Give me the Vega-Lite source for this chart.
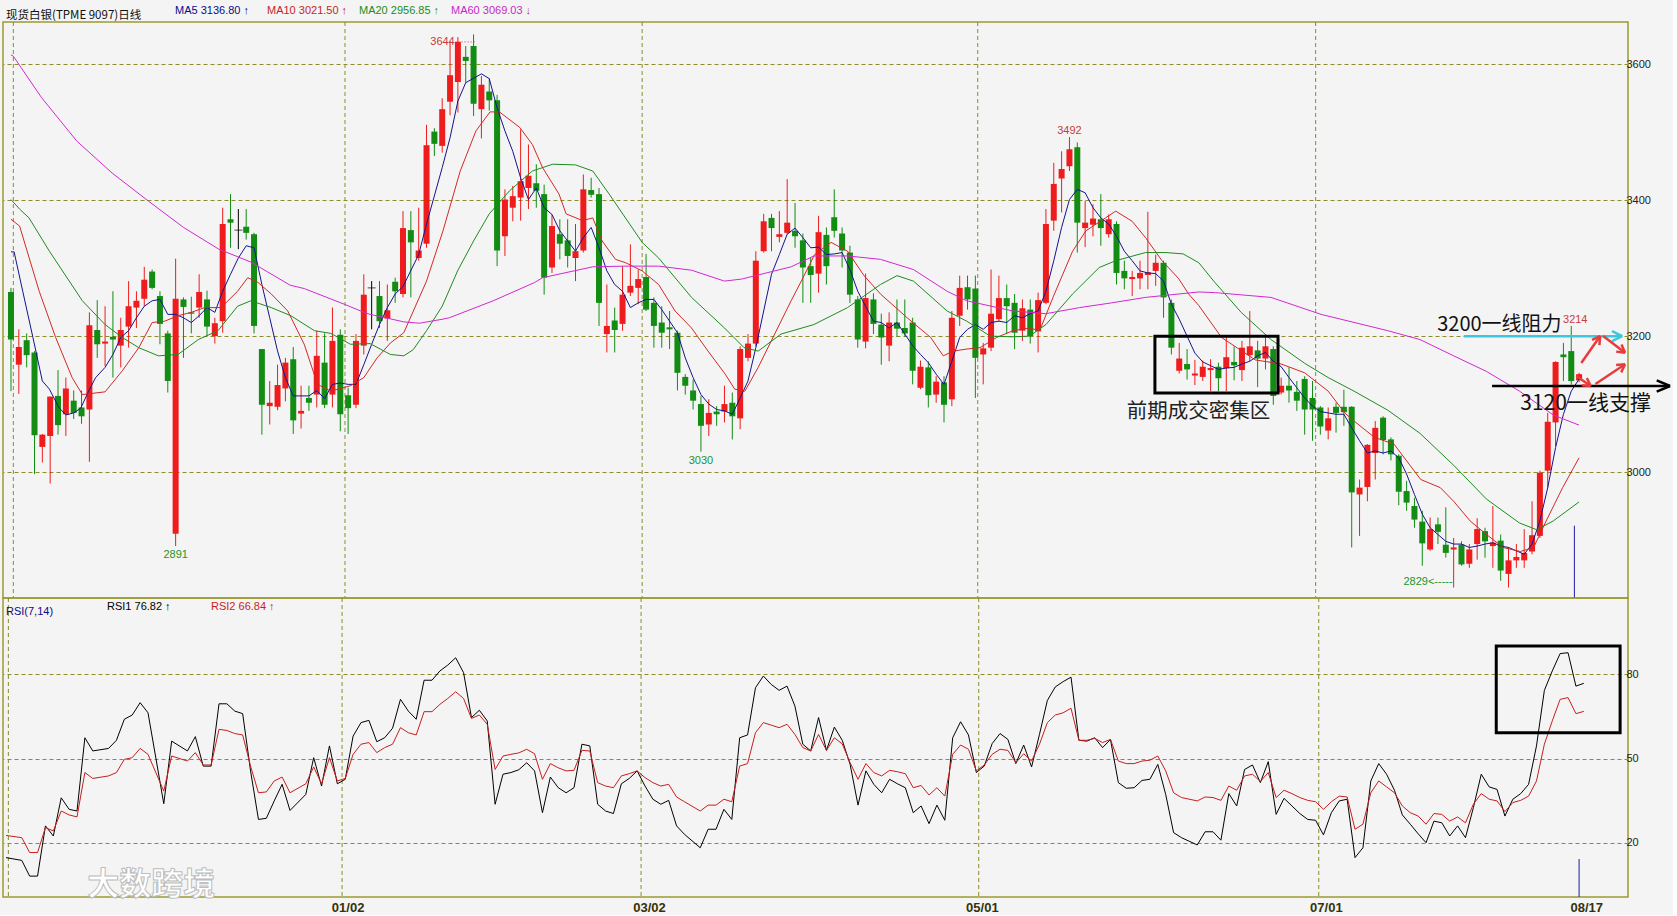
{
"$schema": "https://vega.github.io/schema/vega-lite/v6.json",
"background": "#f4f4f4",
"padding": {"left": 2, "top": 4, "right": 0, "bottom": 0},
"spacing": 0,
"bounds": "flush",
"config": {"view": {"stroke": "#9a9a30", "strokeWidth": 1.5}, "font": "Liberation Sans"},
"resolve": {"scale": {"color": "independent"}, "legend": {"color": "independent"}},
"datasets": {
"vgrid": [{"i":0.3},{"i":42.6},{"i":80.5},{"i":123.3},{"i":166.4}],
"candles": [
{"i":0,"o":3265,"h":3271,"l":3119,"c":3195},{"i":1,"o":3158,"h":3210,"l":3115,"c":3184},{"i":2,"o":3194,"h":3204,"l":3154,"c":3172},{"i":3,"o":3176,"h":3178,"l":2997,"c":3054},{"i":4,"o":3037,"h":3056,"l":3014,"c":3055},
{"i":5,"o":3053,"h":3111,"l":2983,"c":3111},{"i":6,"o":3112,"h":3150,"l":3055,"c":3069},{"i":7,"o":3085,"h":3139,"l":3053,"c":3123},{"i":8,"o":3105,"h":3120,"l":3078,"c":3087},{"i":9,"o":3095,"h":3120,"l":3071,"c":3082},
{"i":10,"o":3092,"h":3235,"l":3015,"c":3216},{"i":11,"o":3209,"h":3253,"l":3168,"c":3188},{"i":12,"o":3189,"h":3244,"l":3156,"c":3192},{"i":13,"o":3199,"h":3266,"l":3139,"c":3195},{"i":14,"o":3186,"h":3227,"l":3154,"c":3209},
{"i":15,"o":3214,"h":3281,"l":3183,"c":3244},{"i":16,"o":3242,"h":3266,"l":3212,"c":3252},{"i":17,"o":3255,"h":3302,"l":3244,"c":3283},{"i":18,"o":3295,"h":3298,"l":3269,"c":3271},{"i":19,"o":3259,"h":3266,"l":3188,"c":3218},
{"i":20,"o":3204,"h":3208,"l":3117,"c":3134},{"i":21,"o":2909,"h":3314,"l":2891,"c":3255},{"i":22,"o":3254,"h":3257,"l":3168,"c":3243},{"i":23,"o":3235,"h":3258,"l":3204,"c":3233},{"i":24,"o":3242,"h":3291,"l":3227,"c":3265},
{"i":25,"o":3254,"h":3267,"l":3200,"c":3214},{"i":26,"o":3200,"h":3227,"l":3189,"c":3219},{"i":27,"o":3222,"h":3389,"l":3205,"c":3365},{"i":28,"o":3372,"h":3409,"l":3330,"c":3367},{"i":29,"o":3356,"h":3387,"l":3328,"c":3356},
{"i":30,"o":3361,"h":3387,"l":3342,"c":3352},{"i":31,"o":3350,"h":3352,"l":3204,"c":3215},{"i":32,"o":3181,"h":3181,"l":3055,"c":3099},{"i":33,"o":3097,"h":3134,"l":3070,"c":3102},{"i":34,"o":3096,"h":3158,"l":3091,"c":3128},
{"i":35,"o":3123,"h":3168,"l":3104,"c":3161},{"i":36,"o":3166,"h":3184,"l":3056,"c":3076},{"i":37,"o":3086,"h":3127,"l":3064,"c":3090},{"i":38,"o":3109,"h":3127,"l":3090,"c":3102},{"i":39,"o":3114,"h":3208,"l":3095,"c":3171},
{"i":40,"o":3161,"h":3204,"l":3094,"c":3099},{"i":41,"o":3114,"h":3242,"l":3095,"c":3193},{"i":42,"o":3202,"h":3210,"l":3060,"c":3085},{"i":43,"o":3113,"h":3124,"l":3056,"c":3094},{"i":44,"o":3099,"h":3203,"l":3094,"c":3193},
{"i":45,"o":3186,"h":3291,"l":3173,"c":3261},{"i":46,"o":3271,"h":3281,"l":3210,"c":3271},{"i":47,"o":3259,"h":3281,"l":3212,"c":3222},{"i":48,"o":3226,"h":3276,"l":3193,"c":3238},{"i":49,"o":3280,"h":3286,"l":3249,"c":3266},
{"i":50,"o":3262,"h":3384,"l":3257,"c":3359},{"i":51,"o":3356,"h":3384,"l":3257,"c":3338},{"i":52,"o":3315,"h":3389,"l":3311,"c":3326},{"i":53,"o":3336,"h":3511,"l":3330,"c":3481},{"i":54,"o":3501,"h":3506,"l":3465,"c":3483},
{"i":55,"o":3480,"h":3550,"l":3470,"c":3534},{"i":56,"o":3545,"h":3634,"l":3525,"c":3584},{"i":57,"o":3574,"h":3640,"l":3529,"c":3633},{"i":58,"o":3611,"h":3627,"l":3573,"c":3605},{"i":59,"o":3627,"h":3644,"l":3524,"c":3542},
{"i":60,"o":3534,"h":3583,"l":3491,"c":3570},{"i":61,"o":3560,"h":3579,"l":3532,"c":3547},{"i":62,"o":3547,"h":3555,"l":3303,"c":3326},{"i":63,"o":3347,"h":3416,"l":3318,"c":3401},{"i":64,"o":3389,"h":3421,"l":3369,"c":3406},
{"i":65,"o":3404,"h":3504,"l":3370,"c":3428},{"i":66,"o":3418,"h":3482,"l":3387,"c":3436},{"i":67,"o":3425,"h":3453,"l":3389,"c":3414},{"i":68,"o":3409,"h":3423,"l":3261,"c":3286},{"i":69,"o":3301,"h":3379,"l":3293,"c":3362},
{"i":70,"o":3350,"h":3372,"l":3313,"c":3336},{"i":71,"o":3341,"h":3372,"l":3301,"c":3318},{"i":72,"o":3315,"h":3365,"l":3281,"c":3325},{"i":73,"o":3326,"h":3438,"l":3323,"c":3416},{"i":74,"o":3415,"h":3433,"l":3404,"c":3408},
{"i":75,"o":3409,"h":3418,"l":3215,"c":3249},{"i":76,"o":3203,"h":3276,"l":3176,"c":3215},{"i":77,"o":3223,"h":3242,"l":3176,"c":3209},{"i":78,"o":3218,"h":3303,"l":3208,"c":3261},{"i":79,"o":3264,"h":3335,"l":3259,"c":3274},
{"i":80,"o":3271,"h":3298,"l":3247,"c":3284},{"i":81,"o":3287,"h":3321,"l":3237,"c":3239},{"i":82,"o":3249,"h":3257,"l":3183,"c":3215},{"i":83,"o":3220,"h":3244,"l":3183,"c":3205},{"i":84,"o":3213,"h":3237,"l":3181,"c":3210},
{"i":85,"o":3205,"h":3208,"l":3120,"c":3146},{"i":86,"o":3140,"h":3144,"l":3114,"c":3127},{"i":87,"o":3120,"h":3136,"l":3092,"c":3105},{"i":88,"o":3100,"h":3112,"l":3030,"c":3068},{"i":89,"o":3070,"h":3107,"l":3053,"c":3087},
{"i":90,"o":3089,"h":3097,"l":3068,"c":3085},{"i":91,"o":3089,"h":3127,"l":3073,"c":3100},{"i":92,"o":3102,"h":3117,"l":3048,"c":3082},{"i":93,"o":3079,"h":3185,"l":3063,"c":3181},{"i":94,"o":3168,"h":3203,"l":3163,"c":3189},
{"i":95,"o":3189,"h":3325,"l":3185,"c":3311},{"i":96,"o":3325,"h":3380,"l":3323,"c":3369},{"i":97,"o":3374,"h":3380,"l":3325,"c":3359},{"i":98,"o":3346,"h":3384,"l":3338,"c":3350},{"i":99,"o":3352,"h":3431,"l":3350,"c":3367},
{"i":100,"o":3355,"h":3396,"l":3330,"c":3347},{"i":101,"o":3341,"h":3351,"l":3249,"c":3301},{"i":102,"o":3303,"h":3315,"l":3249,"c":3290},{"i":103,"o":3292,"h":3377,"l":3264,"c":3353},{"i":104,"o":3349,"h":3360,"l":3276,"c":3303},
{"i":105,"o":3375,"h":3416,"l":3345,"c":3355},{"i":106,"o":3351,"h":3360,"l":3301,"c":3326},{"i":107,"o":3323,"h":3333,"l":3249,"c":3261},{"i":108,"o":3254,"h":3259,"l":3183,"c":3195},{"i":109,"o":3192,"h":3292,"l":3182,"c":3256},
{"i":110,"o":3254,"h":3263,"l":3203,"c":3218},{"i":111,"o":3217,"h":3233,"l":3158,"c":3198},{"i":112,"o":3186,"h":3235,"l":3163,"c":3220},{"i":113,"o":3220,"h":3254,"l":3199,"c":3211},{"i":114,"o":3212,"h":3254,"l":3199,"c":3204},
{"i":115,"o":3220,"h":3227,"l":3129,"c":3149},{"i":116,"o":3124,"h":3164,"l":3122,"c":3155},{"i":117,"o":3154,"h":3163,"l":3095,"c":3113},{"i":118,"o":3114,"h":3141,"l":3102,"c":3133},{"i":119,"o":3132,"h":3141,"l":3073,"c":3099},
{"i":120,"o":3107,"h":3237,"l":3097,"c":3227},{"i":121,"o":3230,"h":3289,"l":3215,"c":3271},{"i":122,"o":3272,"h":3289,"l":3239,"c":3254},{"i":123,"o":3270,"h":3289,"l":3109,"c":3168},{"i":124,"o":3173,"h":3190,"l":3129,"c":3182},
{"i":125,"o":3183,"h":3298,"l":3178,"c":3233},{"i":126,"o":3225,"h":3289,"l":3222,"c":3256},{"i":127,"o":3256,"h":3276,"l":3203,"c":3244},{"i":128,"o":3249,"h":3262,"l":3181,"c":3205},{"i":129,"o":3208,"h":3254,"l":3193,"c":3241},
{"i":130,"o":3239,"h":3254,"l":3189,"c":3200},{"i":131,"o":3207,"h":3264,"l":3176,"c":3253},{"i":132,"o":3249,"h":3387,"l":3247,"c":3365},{"i":133,"o":3370,"h":3455,"l":3355,"c":3424},{"i":134,"o":3432,"h":3472,"l":3382,"c":3446},
{"i":135,"o":3450,"h":3493,"l":3443,"c":3475},{"i":136,"o":3478,"h":3485,"l":3323,"c":3367},{"i":137,"o":3359,"h":3399,"l":3331,"c":3367},{"i":138,"o":3364,"h":3394,"l":3347,"c":3373},{"i":139,"o":3372,"h":3409,"l":3333,"c":3359},
{"i":140,"o":3350,"h":3379,"l":3345,"c":3372},{"i":141,"o":3365,"h":3369,"l":3276,"c":3293},{"i":142,"o":3296,"h":3311,"l":3269,"c":3285},{"i":143,"o":3284,"h":3296,"l":3259,"c":3287},{"i":144,"o":3285,"h":3311,"l":3269,"c":3293},
{"i":145,"o":3290,"h":3383,"l":3269,"c":3294},{"i":146,"o":3296,"h":3320,"l":3274,"c":3308},{"i":147,"o":3308,"h":3311,"l":3227,"c":3257},{"i":148,"o":3249,"h":3254,"l":3173,"c":3183},{"i":149,"o":3149,"h":3190,"l":3145,"c":3167},
{"i":150,"o":3159,"h":3181,"l":3136,"c":3151},{"i":151,"o":3142,"h":3165,"l":3128,"c":3145},{"i":152,"o":3140,"h":3164,"l":3134,"c":3155},{"i":153,"o":3150,"h":3166,"l":3119,"c":3153},{"i":154,"o":3155,"h":3161,"l":3119,"c":3138},
{"i":155,"o":3153,"h":3200,"l":3119,"c":3169},{"i":156,"o":3162,"h":3185,"l":3135,"c":3157},{"i":157,"o":3150,"h":3193,"l":3134,"c":3183},{"i":158,"o":3172,"h":3237,"l":3163,"c":3185},{"i":159,"o":3179,"h":3193,"l":3125,"c":3167},
{"i":160,"o":3167,"h":3198,"l":3151,"c":3185},{"i":161,"o":3181,"h":3185,"l":3099,"c":3112},{"i":162,"o":3117,"h":3139,"l":3114,"c":3127},{"i":163,"o":3127,"h":3154,"l":3102,"c":3120},{"i":164,"o":3118,"h":3134,"l":3090,"c":3105},
{"i":165,"o":3137,"h":3141,"l":3055,"c":3092},{"i":166,"o":3109,"h":3134,"l":3046,"c":3092},{"i":167,"o":3095,"h":3097,"l":3055,"c":3067},{"i":168,"o":3061,"h":3095,"l":3048,"c":3079},{"i":169,"o":3096,"h":3102,"l":3058,"c":3087},
{"i":170,"o":3096,"h":3121,"l":3068,"c":3088},{"i":171,"o":3096,"h":3097,"l":2889,"c":2970},{"i":172,"o":2967,"h":2989,"l":2906,"c":2977},{"i":173,"o":2978,"h":3041,"l":2957,"c":3040},{"i":174,"o":3028,"h":3075,"l":2989,"c":3065},
{"i":175,"o":3080,"h":3082,"l":3026,"c":3047},{"i":176,"o":3048,"h":3051,"l":3017,"c":3026},{"i":177,"o":3024,"h":3026,"l":2951,"c":2971},{"i":178,"o":2972,"h":2987,"l":2943,"c":2955},{"i":179,"o":2950,"h":2962,"l":2918,"c":2930},
{"i":180,"o":2927,"h":2943,"l":2862,"c":2895},{"i":181,"o":2886,"h":2933,"l":2884,"c":2916},{"i":182,"o":2923,"h":2933,"l":2894,"c":2912},{"i":183,"o":2893,"h":2948,"l":2874,"c":2881},{"i":184,"o":2886,"h":2903,"l":2830,"c":2889},
{"i":185,"o":2893,"h":2898,"l":2862,"c":2864},{"i":186,"o":2865,"h":2894,"l":2859,"c":2886},{"i":187,"o":2894,"h":2932,"l":2871,"c":2916},{"i":188,"o":2913,"h":2918,"l":2874,"c":2898},{"i":189,"o":2891,"h":2950,"l":2859,"c":2896},
{"i":190,"o":2899,"h":2908,"l":2840,"c":2855},{"i":191,"o":2850,"h":2889,"l":2830,"c":2870},{"i":192,"o":2870,"h":2894,"l":2859,"c":2875},{"i":193,"o":2870,"h":2916,"l":2859,"c":2881},{"i":194,"o":2883,"h":2957,"l":2879,"c":2907},
{"i":195,"o":2906,"h":3002,"l":2903,"c":2999},{"i":196,"o":3002,"h":3087,"l":2977,"c":3074},{"i":197,"o":3073,"h":3163,"l":3038,"c":3162},{"i":198,"o":3173,"h":3190,"l":3134,"c":3169},{"i":199,"o":3178,"h":3215,"l":3129,"c":3134},
{"i":200,"o":3135,"h":3146,"l":3132,"c":3144}
],
"ma": [
{"s":"MA5","i":0,"v":3324},{"s":"MA5","i":0.4,"v":3324},{"s":"MA5","i":1.5,"v":3266},{"s":"MA5","i":2.8,"v":3198},{"s":"MA5","i":4,"v":3134},{"s":"MA5","i":4.9,"v":3122},{"s":"MA5","i":6.1,"v":3095},{"s":"MA5","i":7,"v":3084},{"s":"MA5","i":8,"v":3087},{"s":"MA5","i":8.9,"v":3094},{"s":"MA5","i":9.9,"v":3119},{"s":"MA5","i":10.8,"v":3139},{"s":"MA5","i":12,"v":3154},{"s":"MA5","i":13,"v":3173},{"s":"MA5","i":14,"v":3198},{"s":"MA5","i":15,"v":3208},{"s":"MA5","i":16,"v":3227},{"s":"MA5","i":17,"v":3244},{"s":"MA5","i":18,"v":3252},{"s":"MA5","i":19,"v":3254},{"s":"MA5","i":20,"v":3232},{"s":"MA5","i":21,"v":3232},{"s":"MA5","i":22,"v":3227},{"s":"MA5","i":23,"v":3220},{"s":"MA5","i":24,"v":3230},{"s":"MA5","i":25,"v":3242},{"s":"MA5","i":26,"v":3235},{"s":"MA5","i":27,"v":3266},{"s":"MA5","i":28,"v":3291},{"s":"MA5","i":29,"v":3315},{"s":"MA5","i":30,"v":3333},{"s":"MA5","i":31,"v":3330},{"s":"MA5","i":32,"v":3276},{"s":"MA5","i":33,"v":3227},{"s":"MA5","i":34,"v":3178},{"s":"MA5","i":35,"v":3139},{"s":"MA5","i":36,"v":3112},{"s":"MA5","i":37,"v":3112},{"s":"MA5","i":38,"v":3112},{"s":"MA5","i":39,"v":3120},{"s":"MA5","i":40,"v":3108},{"s":"MA5","i":41,"v":3129},{"s":"MA5","i":42,"v":3131},{"s":"MA5","i":43,"v":3129},{"s":"MA5","i":44,"v":3129},{"s":"MA5","i":45,"v":3158},{"s":"MA5","i":46,"v":3188},{"s":"MA5","i":47,"v":3217},{"s":"MA5","i":48,"v":3242},{"s":"MA5","i":49,"v":3262},{"s":"MA5","i":50,"v":3273},{"s":"MA5","i":52,"v":3320},{"s":"MA5","i":53,"v":3365},{"s":"MA5","i":55,"v":3448},{"s":"MA5","i":56,"v":3492},{"s":"MA5","i":57,"v":3546},{"s":"MA5","i":58,"v":3573},{"s":"MA5","i":60,"v":3586},{"s":"MA5","i":61,"v":3579},{"s":"MA5","i":62,"v":3536},{"s":"MA5","i":63,"v":3502},{"s":"MA5","i":64,"v":3472},{"s":"MA5","i":65,"v":3433},{"s":"MA5","i":66,"v":3401},{"s":"MA5","i":67,"v":3418},{"s":"MA5","i":68,"v":3389},{"s":"MA5","i":69,"v":3379},{"s":"MA5","i":70,"v":3355},{"s":"MA5","i":71,"v":3340},{"s":"MA5","i":72,"v":3325},{"s":"MA5","i":73,"v":3345},{"s":"MA5","i":74,"v":3360},{"s":"MA5","i":75,"v":3330},{"s":"MA5","i":76,"v":3296},{"s":"MA5","i":77,"v":3276},{"s":"MA5","i":78,"v":3266},{"s":"MA5","i":79,"v":3242},{"s":"MA5","i":80,"v":3249},{"s":"MA5","i":81,"v":3254},{"s":"MA5","i":82,"v":3254},{"s":"MA5","i":83,"v":3239},{"s":"MA5","i":84,"v":3222},{"s":"MA5","i":85,"v":3205},{"s":"MA5","i":86,"v":3168},{"s":"MA5","i":87,"v":3139},{"s":"MA5","i":88,"v":3114},{"s":"MA5","i":89,"v":3100},{"s":"MA5","i":90,"v":3092},{"s":"MA5","i":91,"v":3090},{"s":"MA5","i":92,"v":3085},{"s":"MA5","i":93,"v":3109},{"s":"MA5","i":94,"v":3134},{"s":"MA5","i":95,"v":3183},{"s":"MA5","i":96,"v":3237},{"s":"MA5","i":97,"v":3291},{"s":"MA5","i":98,"v":3320},{"s":"MA5","i":99,"v":3350},{"s":"MA5","i":100,"v":3359},{"s":"MA5","i":101,"v":3345},{"s":"MA5","i":102,"v":3330},{"s":"MA5","i":103,"v":3331},{"s":"MA5","i":104,"v":3320},{"s":"MA5","i":105,"v":3321},{"s":"MA5","i":106,"v":3323},{"s":"MA5","i":107,"v":3298},{"s":"MA5","i":108,"v":3266},{"s":"MA5","i":109,"v":3244},{"s":"MA5","i":110,"v":3222},{"s":"MA5","i":111,"v":3220},{"s":"MA5","i":112,"v":3212},{"s":"MA5","i":113,"v":3220},{"s":"MA5","i":114,"v":3203},{"s":"MA5","i":115,"v":3186},{"s":"MA5","i":116,"v":3173},{"s":"MA5","i":117,"v":3161},{"s":"MA5","i":118,"v":3144},{"s":"MA5","i":119,"v":3129},{"s":"MA5","i":120,"v":3163},{"s":"MA5","i":121,"v":3198},{"s":"MA5","i":122,"v":3210},{"s":"MA5","i":123,"v":3217},{"s":"MA5","i":124,"v":3210},{"s":"MA5","i":125,"v":3220},{"s":"MA5","i":126,"v":3222},{"s":"MA5","i":127,"v":3220},{"s":"MA5","i":128,"v":3230},{"s":"MA5","i":129,"v":3227},{"s":"MA5","i":130,"v":3233},{"s":"MA5","i":131,"v":3237},{"s":"MA5","i":132,"v":3266},{"s":"MA5","i":133,"v":3311},{"s":"MA5","i":134,"v":3360},{"s":"MA5","i":135,"v":3401},{"s":"MA5","i":136,"v":3416},{"s":"MA5","i":137,"v":3411},{"s":"MA5","i":138,"v":3389},{"s":"MA5","i":139,"v":3374},{"s":"MA5","i":140,"v":3365},{"s":"MA5","i":141,"v":3347},{"s":"MA5","i":142,"v":3325},{"s":"MA5","i":143,"v":3311},{"s":"MA5","i":144,"v":3296},{"s":"MA5","i":145,"v":3293},{"s":"MA5","i":146,"v":3292},{"s":"MA5","i":147,"v":3281},{"s":"MA5","i":148,"v":3247},{"s":"MA5","i":149,"v":3225},{"s":"MA5","i":150,"v":3200},{"s":"MA5","i":151,"v":3175},{"s":"MA5","i":152,"v":3162},{"s":"MA5","i":154,"v":3151},{"s":"MA5","i":155,"v":3153},{"s":"MA5","i":156,"v":3154},{"s":"MA5","i":157,"v":3159},{"s":"MA5","i":158,"v":3163},{"s":"MA5","i":159,"v":3171},{"s":"MA5","i":160,"v":3176},{"s":"MA5","i":161,"v":3163},{"s":"MA5","i":162,"v":3155},{"s":"MA5","i":163,"v":3139},{"s":"MA5","i":164,"v":3124},{"s":"MA5","i":165,"v":3109},{"s":"MA5","i":166,"v":3097},{"s":"MA5","i":167,"v":3089},{"s":"MA5","i":168,"v":3087},{"s":"MA5","i":169,"v":3085},{"s":"MA5","i":170,"v":3085},{"s":"MA5","i":171,"v":3065},{"s":"MA5","i":172,"v":3046},{"s":"MA5","i":173,"v":3028},{"s":"MA5","i":174,"v":3031},{"s":"MA5","i":175,"v":3028},{"s":"MA5","i":176,"v":3031},{"s":"MA5","i":177,"v":3021},{"s":"MA5","i":178,"v":2997},{"s":"MA5","i":179,"v":2967},{"s":"MA5","i":180,"v":2938},{"s":"MA5","i":181,"v":2918},{"s":"MA5","i":182,"v":2908},{"s":"MA5","i":183,"v":2898},{"s":"MA5","i":184,"v":2894},{"s":"MA5","i":185,"v":2894},{"s":"MA5","i":186,"v":2889},{"s":"MA5","i":187,"v":2891},{"s":"MA5","i":188,"v":2894},{"s":"MA5","i":189,"v":2896},{"s":"MA5","i":190,"v":2891},{"s":"MA5","i":191,"v":2889},{"s":"MA5","i":192,"v":2884},{"s":"MA5","i":193,"v":2879},{"s":"MA5","i":194,"v":2894},{"s":"MA5","i":195,"v":2928},{"s":"MA5","i":196,"v":2977},{"s":"MA5","i":197,"v":3036},{"s":"MA5","i":198,"v":3085},{"s":"MA5","i":199,"v":3119},{"s":"MA5","i":200,"v":3137},
{"s":"MA10","i":0,"v":3372},{"s":"MA10","i":1.1,"v":3362},{"s":"MA10","i":3.6,"v":3266},{"s":"MA10","i":5.7,"v":3198},{"s":"MA10","i":7.8,"v":3139},{"s":"MA10","i":9.1,"v":3114},{"s":"MA10","i":12,"v":3118},{"s":"MA10","i":14.2,"v":3149},{"s":"MA10","i":16.3,"v":3183},{"s":"MA10","i":18,"v":3220},{"s":"MA10","i":19.6,"v":3222},{"s":"MA10","i":21.3,"v":3230},{"s":"MA10","i":23,"v":3235},{"s":"MA10","i":24.7,"v":3242},{"s":"MA10","i":26.8,"v":3242},{"s":"MA10","i":28.9,"v":3266},{"s":"MA10","i":30.2,"v":3286},{"s":"MA10","i":31.5,"v":3279},{"s":"MA10","i":33.2,"v":3262},{"s":"MA10","i":35.3,"v":3237},{"s":"MA10","i":37.4,"v":3188},{"s":"MA10","i":39.1,"v":3129},{"s":"MA10","i":40.8,"v":3119},{"s":"MA10","i":43.3,"v":3127},{"s":"MA10","i":45,"v":3139},{"s":"MA10","i":46.7,"v":3168},{"s":"MA10","i":48.4,"v":3190},{"s":"MA10","i":50.1,"v":3205},{"s":"MA10","i":53,"v":3281},{"s":"MA10","i":55.1,"v":3355},{"s":"MA10","i":57.3,"v":3443},{"s":"MA10","i":59.3,"v":3502},{"s":"MA10","i":61.1,"v":3530},{"s":"MA10","i":62.3,"v":3530},{"s":"MA10","i":64.9,"v":3507},{"s":"MA10","i":66.5,"v":3482},{"s":"MA10","i":67.8,"v":3448},{"s":"MA10","i":69.9,"v":3409},{"s":"MA10","i":70.8,"v":3380},{"s":"MA10","i":72.9,"v":3370},{"s":"MA10","i":74.2,"v":3374},{"s":"MA10","i":75.4,"v":3340},{"s":"MA10","i":77.1,"v":3313},{"s":"MA10","i":78.4,"v":3308},{"s":"MA10","i":80.5,"v":3296},{"s":"MA10","i":82.6,"v":3276},{"s":"MA10","i":84.7,"v":3237},{"s":"MA10","i":86.8,"v":3212},{"s":"MA10","i":88.9,"v":3178},{"s":"MA10","i":91.1,"v":3144},{"s":"MA10","i":92.3,"v":3122},{"s":"MA10","i":93.6,"v":3119},{"s":"MA10","i":95.3,"v":3154},{"s":"MA10","i":97.4,"v":3203},{"s":"MA10","i":99.5,"v":3252},{"s":"MA10","i":100.8,"v":3281},{"s":"MA10","i":102.5,"v":3320},{"s":"MA10","i":104.6,"v":3338},{"s":"MA10","i":106.7,"v":3325},{"s":"MA10","i":108.8,"v":3289},{"s":"MA10","i":110.9,"v":3262},{"s":"MA10","i":114.3,"v":3227},{"s":"MA10","i":117.3,"v":3198},{"s":"MA10","i":118.9,"v":3171},{"s":"MA10","i":120.2,"v":3178},{"s":"MA10","i":121.9,"v":3181},{"s":"MA10","i":123.6,"v":3183},{"s":"MA10","i":125.7,"v":3198},{"s":"MA10","i":127.8,"v":3208},{"s":"MA10","i":129.9,"v":3212},{"s":"MA10","i":131.2,"v":3208},{"s":"MA10","i":132.9,"v":3257},{"s":"MA10","i":135.4,"v":3325},{"s":"MA10","i":137.1,"v":3355},{"s":"MA10","i":139.6,"v":3374},{"s":"MA10","i":140.9,"v":3384},{"s":"MA10","i":143,"v":3369},{"s":"MA10","i":144.7,"v":3345},{"s":"MA10","i":146.8,"v":3311},{"s":"MA10","i":148.9,"v":3285},{"s":"MA10","i":150.2,"v":3262},{"s":"MA10","i":151.5,"v":3245},{"s":"MA10","i":154.4,"v":3198},{"s":"MA10","i":158.7,"v":3165},{"s":"MA10","i":162,"v":3159},{"s":"MA10","i":165,"v":3146},{"s":"MA10","i":168,"v":3119},{"s":"MA10","i":170.1,"v":3087},{"s":"MA10","i":171.3,"v":3075},{"s":"MA10","i":173.9,"v":3051},{"s":"MA10","i":176.4,"v":3041},{"s":"MA10","i":179.8,"v":2989},{"s":"MA10","i":182.3,"v":2977},{"s":"MA10","i":184,"v":2957},{"s":"MA10","i":186.1,"v":2928},{"s":"MA10","i":188.2,"v":2908},{"s":"MA10","i":190.3,"v":2889},{"s":"MA10","i":192.5,"v":2883},{"s":"MA10","i":194.2,"v":2889},{"s":"MA10","i":195.8,"v":2928},{"s":"MA10","i":197.9,"v":2977},{"s":"MA10","i":200,"v":3021},
{"s":"MA20","i":0,"v":3401},{"s":"MA20","i":1.1,"v":3387},{"s":"MA20","i":2.3,"v":3374},{"s":"MA20","i":4.9,"v":3325},{"s":"MA20","i":9.1,"v":3252},{"s":"MA20","i":12,"v":3217},{"s":"MA20","i":14.2,"v":3198},{"s":"MA20","i":16.3,"v":3183},{"s":"MA20","i":18.8,"v":3171},{"s":"MA20","i":21.3,"v":3173},{"s":"MA20","i":23.9,"v":3195},{"s":"MA20","i":26.4,"v":3208},{"s":"MA20","i":28.9,"v":3244},{"s":"MA20","i":30.6,"v":3252},{"s":"MA20","i":33.2,"v":3242},{"s":"MA20","i":35.7,"v":3230},{"s":"MA20","i":38.7,"v":3208},{"s":"MA20","i":40.8,"v":3204},{"s":"MA20","i":43.3,"v":3188},{"s":"MA20","i":45.8,"v":3189},{"s":"MA20","i":48.4,"v":3173},{"s":"MA20","i":50.1,"v":3171},{"s":"MA20","i":51.3,"v":3180},{"s":"MA20","i":53,"v":3208},{"s":"MA20","i":55,"v":3244},{"s":"MA20","i":57,"v":3297},{"s":"MA20","i":59,"v":3340},{"s":"MA20","i":61,"v":3380},{"s":"MA20","i":63.6,"v":3414},{"s":"MA20","i":66.5,"v":3443},{"s":"MA20","i":69.1,"v":3453},{"s":"MA20","i":72,"v":3452},{"s":"MA20","i":74.2,"v":3443},{"s":"MA20","i":76.3,"v":3409},{"s":"MA20","i":80.5,"v":3338},{"s":"MA20","i":82.6,"v":3315},{"s":"MA20","i":86.8,"v":3257},{"s":"MA20","i":91,"v":3212},{"s":"MA20","i":93.5,"v":3183},{"s":"MA20","i":95.3,"v":3178},{"s":"MA20","i":98.2,"v":3203},{"s":"MA20","i":102.4,"v":3217},{"s":"MA20","i":106.7,"v":3242},{"s":"MA20","i":110.9,"v":3276},{"s":"MA20","i":113,"v":3289},{"s":"MA20","i":115.1,"v":3281},{"s":"MA20","i":119.4,"v":3237},{"s":"MA20","i":121.9,"v":3222},{"s":"MA20","i":124.9,"v":3200},{"s":"MA20","i":127.8,"v":3199},{"s":"MA20","i":129.9,"v":3200},{"s":"MA20","i":132,"v":3217},{"s":"MA20","i":135.4,"v":3262},{"s":"MA20","i":138.8,"v":3301},{"s":"MA20","i":140.9,"v":3311},{"s":"MA20","i":144.7,"v":3323},{"s":"MA20","i":147.3,"v":3323},{"s":"MA20","i":149.5,"v":3321},{"s":"MA20","i":151.5,"v":3308},{"s":"MA20","i":153.4,"v":3281},{"s":"MA20","i":156.9,"v":3235},{"s":"MA20","i":160.7,"v":3195},{"s":"MA20","i":165,"v":3160},{"s":"MA20","i":168,"v":3139},{"s":"MA20","i":171.3,"v":3119},{"s":"MA20","i":175.6,"v":3091},{"s":"MA20","i":179.7,"v":3057},{"s":"MA20","i":184,"v":3010},{"s":"MA20","i":188.2,"v":2960},{"s":"MA20","i":192.4,"v":2925},{"s":"MA20","i":194.6,"v":2915},{"s":"MA20","i":196.7,"v":2928},{"s":"MA20","i":200,"v":2956},
{"s":"MA60","i":0,"v":3614},{"s":"MA60","i":0.3,"v":3612},{"s":"MA60","i":3.9,"v":3551},{"s":"MA60","i":8.4,"v":3487},{"s":"MA60","i":12.9,"v":3440},{"s":"MA60","i":17.5,"v":3399},{"s":"MA60","i":22,"v":3360},{"s":"MA60","i":26.5,"v":3328},{"s":"MA60","i":30.6,"v":3309},{"s":"MA60","i":35.6,"v":3275},{"s":"MA60","i":37.4,"v":3270},{"s":"MA60","i":42.5,"v":3247},{"s":"MA60","i":44.6,"v":3237},{"s":"MA60","i":45.8,"v":3232},{"s":"MA60","i":50.1,"v":3221},{"s":"MA60","i":52.1,"v":3219},{"s":"MA60","i":55.1,"v":3225},{"s":"MA60","i":55.9,"v":3227},{"s":"MA60","i":61.5,"v":3252},{"s":"MA60","i":66.8,"v":3279},{"s":"MA60","i":67.8,"v":3286},{"s":"MA60","i":74.2,"v":3302},{"s":"MA60","i":78.3,"v":3303},{"s":"MA60","i":82.6,"v":3303},{"s":"MA60","i":86.8,"v":3297},{"s":"MA60","i":91,"v":3281},{"s":"MA60","i":93.2,"v":3284},{"s":"MA60","i":99.5,"v":3302},{"s":"MA60","i":102.4,"v":3318},{"s":"MA60","i":106.7,"v":3318},{"s":"MA60","i":110.9,"v":3313},{"s":"MA60","i":115.1,"v":3298},{"s":"MA60","i":119.4,"v":3266},{"s":"MA60","i":121.9,"v":3252},{"s":"MA60","i":127.8,"v":3237},{"s":"MA60","i":132,"v":3233},{"s":"MA60","i":136.3,"v":3242},{"s":"MA60","i":140.4,"v":3249},{"s":"MA60","i":144.7,"v":3257},{"s":"MA60","i":151.5,"v":3265},{"s":"MA60","i":153.6,"v":3264},{"s":"MA60","i":160.7,"v":3257},{"s":"MA60","i":167.1,"v":3232},{"s":"MA60","i":175.6,"v":3208},{"s":"MA60","i":179.7,"v":3195},{"s":"MA60","i":184,"v":3171},{"s":"MA60","i":188.2,"v":3148},{"s":"MA60","i":192.4,"v":3119},{"s":"MA60","i":196.7,"v":3084},{"s":"MA60","i":200,"v":3069}
],
"rsi": [
{"i":0,"r1":14.7,"r2":22.6},{"i":2,"r1":13.7,"r2":21.8},{"i":3,"r1":8.1,"r2":16.5},{"i":4,"r1":8.1,"r2":16.5},{"i":5,"r1":26,"r2":25.4},{"i":6,"r1":22.4,"r2":24.2},{"i":7,"r1":36,"r2":31.3},{"i":8,"r1":31.9,"r2":29.9},{"i":9,"r1":31.3,"r2":29.2},{"i":10,"r1":57.4,"r2":45},{"i":11,"r1":52.7,"r2":42.9},{"i":13,"r1":53.6,"r2":43.8},{"i":14,"r1":56.5,"r2":45},{"i":15,"r1":64,"r2":49.7},{"i":16,"r1":65.5,"r2":50.3},{"i":17,"r1":69.9,"r2":53.6},{"i":18,"r1":66.3,"r2":51.5},{"i":20,"r1":33.9,"r2":38.4},{"i":21,"r1":56.2,"r2":50.9},{"i":23,"r1":52.7,"r2":49.1},{"i":24,"r1":57.8,"r2":52.1},{"i":25,"r1":47.3,"r2":47.7},{"i":26,"r1":47.3,"r2":47.7},{"i":27,"r1":69.5,"r2":60.4},{"i":28,"r1":69.5,"r2":60},{"i":29,"r1":66.9,"r2":58.9},{"i":30,"r1":66,"r2":58.4},{"i":31,"r1":45.6,"r2":47.3},{"i":32,"r1":28.3,"r2":37.8},{"i":33,"r1":28.7,"r2":38.1},{"i":34,"r1":34.9,"r2":42},{"i":35,"r1":40.8,"r2":43.4},{"i":36,"r1":31.5,"r2":37.8},{"i":38,"r1":37.2,"r2":41},{"i":39,"r1":50.3,"r2":47},{"i":40,"r1":40.2,"r2":41},{"i":41,"r1":54.5,"r2":50.3},{"i":42,"r1":41,"r2":42},{"i":43,"r1":42.6,"r2":42.9},{"i":44,"r1":58,"r2":51.5},{"i":45,"r1":62.8,"r2":55.1},{"i":46,"r1":63.6,"r2":55.7},{"i":47,"r1":56,"r2":52.1},{"i":48,"r1":57.4,"r2":53.9},{"i":49,"r1":60.8,"r2":55.1},{"i":50,"r1":71.1,"r2":61},{"i":51,"r1":66.9,"r2":59.2},{"i":52,"r1":64,"r2":58.4},{"i":53,"r1":77.9,"r2":66.7},{"i":54,"r1":77.9,"r2":66.7},{"i":55,"r1":81.2,"r2":69.3},{"i":56,"r1":83.3,"r2":71.4},{"i":57,"r1":85.9,"r2":73.8},{"i":58,"r1":80.6,"r2":71.4},{"i":59,"r1":64.6,"r2":64.3},{"i":60,"r1":67.2,"r2":65.5},{"i":61,"r1":63.4,"r2":62.2},{"i":62,"r1":33.7,"r2":46.1},{"i":63,"r1":44.4,"r2":50.9},{"i":64,"r1":45,"r2":51.5},{"i":65,"r1":46,"r2":52},{"i":66,"r1":48.5,"r2":53.3},{"i":67,"r1":45.6,"r2":51.7},{"i":68,"r1":30.7,"r2":42.6},{"i":69,"r1":43.4,"r2":48.2},{"i":70,"r1":39.6,"r2":46.7},{"i":71,"r1":37.8,"r2":45.6},{"i":72,"r1":39.6,"r2":45.8},{"i":73,"r1":55.1,"r2":52.9},{"i":74,"r1":54.5,"r2":52.7},{"i":75,"r1":33.7,"r2":41.4},{"i":76,"r1":31.3,"r2":40.2},{"i":77,"r1":30.4,"r2":39.6},{"i":78,"r1":41,"r2":43.8},{"i":79,"r1":42.9,"r2":44.6},{"i":80,"r1":45.6,"r2":45.6},{"i":81,"r1":40.2,"r2":43.2},{"i":82,"r1":35.5,"r2":41.4},{"i":83,"r1":33.7,"r2":40.2},{"i":84,"r1":35.1,"r2":40.8},{"i":85,"r1":26,"r2":36.3},{"i":86,"r1":23,"r2":34.6},{"i":88,"r1":18.2,"r2":31.3},{"i":89,"r1":24.8,"r2":33.4},{"i":90,"r1":24.8,"r2":33.4},{"i":91,"r1":31.9,"r2":35.5},{"i":92,"r1":28.3,"r2":34.6},{"i":93,"r1":57.4,"r2":47.3},{"i":94,"r1":58.4,"r2":48.2},{"i":95,"r1":75.2,"r2":59.2},{"i":96,"r1":79.4,"r2":62.8},{"i":97,"r1":76.4,"r2":61.9},{"i":98,"r1":74.3,"r2":61},{"i":99,"r1":75.8,"r2":62.2},{"i":100,"r1":68.7,"r2":58.6},{"i":101,"r1":55.1,"r2":53.9},{"i":102,"r1":52.7,"r2":52.7},{"i":103,"r1":64.6,"r2":58.6},{"i":104,"r1":52.9,"r2":52.9},{"i":105,"r1":61.2,"r2":57.4},{"i":106,"r1":56.5,"r2":55.2},{"i":107,"r1":47.9,"r2":48.5},{"i":108,"r1":33.4,"r2":42.6},{"i":109,"r1":45.6,"r2":48.2},{"i":110,"r1":40.8,"r2":45},{"i":111,"r1":37.8,"r2":43.8},{"i":112,"r1":42.6,"r2":45.8},{"i":113,"r1":41,"r2":45.3},{"i":114,"r1":39.6,"r2":44.6},{"i":115,"r1":30.7,"r2":39.6},{"i":116,"r1":33.1,"r2":40.4},{"i":117,"r1":26.8,"r2":37},{"i":118,"r1":33.4,"r2":39.6},{"i":119,"r1":28,"r2":36.6},{"i":120,"r1":57.4,"r2":51.5},{"i":121,"r1":63.1,"r2":54.8},{"i":122,"r1":58.4,"r2":53.3},{"i":123,"r1":45,"r2":45.6},{"i":124,"r1":47.3,"r2":47.7},{"i":125,"r1":55.3,"r2":51.5},{"i":126,"r1":58.9,"r2":53.3},{"i":127,"r1":56.8,"r2":52.9},{"i":128,"r1":48.2,"r2":48.5},{"i":129,"r1":54.8,"r2":51.7},{"i":130,"r1":47,"r2":49.1},{"i":131,"r1":58.6,"r2":55.1},{"i":132,"r1":70.7,"r2":62.8},{"i":133,"r1":75.5,"r2":65.5},{"i":134,"r1":77.4,"r2":66.3},{"i":135,"r1":79,"r2":67.9},{"i":136,"r1":56.5,"r2":56.5},{"i":137,"r1":56.2,"r2":56.5},{"i":138,"r1":57.4,"r2":57.2},{"i":139,"r1":53.9,"r2":55.7},{"i":140,"r1":56.8,"r2":56.8},{"i":141,"r1":41.4,"r2":49.1},{"i":142,"r1":39.4,"r2":48.2},{"i":143,"r1":39.6,"r2":48.2},{"i":144,"r1":42.2,"r2":49.1},{"i":145,"r1":42.6,"r2":49.4},{"i":146,"r1":47.9,"r2":50.9},{"i":147,"r1":37.2,"r2":45.6},{"i":148,"r1":23.6,"r2":37.8},{"i":149,"r1":21.8,"r2":36.1},{"i":151,"r1":19.2,"r2":34.9},{"i":152,"r1":23.9,"r2":36.3},{"i":153,"r1":23.9,"r2":36.1},{"i":154,"r1":20.9,"r2":35.1},{"i":155,"r1":37.5,"r2":40.2},{"i":156,"r1":33.1,"r2":38.7},{"i":157,"r1":46.1,"r2":43.8},{"i":158,"r1":47.7,"r2":44.4},{"i":159,"r1":41.4,"r2":41.8},{"i":160,"r1":48.9,"r2":45},{"i":161,"r1":30.1,"r2":36.1},{"i":162,"r1":35.8,"r2":38.7},{"i":163,"r1":33.1,"r2":37.5},{"i":164,"r1":30.4,"r2":36.1},{"i":165,"r1":28.3,"r2":35.1},{"i":166,"r1":28,"r2":34.6},{"i":167,"r1":22.8,"r2":31.9},{"i":168,"r1":30.7,"r2":34.6},{"i":169,"r1":34.9,"r2":36.6},{"i":170,"r1":35.5,"r2":36.3},{"i":171,"r1":14.7,"r2":24.8},{"i":172,"r1":18.2,"r2":26.6},{"i":173,"r1":42,"r2":37.8},{"i":174,"r1":48.2,"r2":42},{"i":175,"r1":44.4,"r2":39.9},{"i":176,"r1":38.7,"r2":37.8},{"i":177,"r1":29.9,"r2":33.1},{"i":178,"r1":26.6,"r2":30.7},{"i":179,"r1":23.2,"r2":29.5},{"i":180,"r1":20,"r2":26.6},{"i":181,"r1":27.7,"r2":30.4},{"i":182,"r1":27.1,"r2":30.1},{"i":183,"r1":22.4,"r2":27.7},{"i":184,"r1":26,"r2":29.2},{"i":185,"r1":21.8,"r2":27.1},{"i":186,"r1":32.5,"r2":33.7},{"i":187,"r1":44.4,"r2":37.5},{"i":188,"r1":39.9,"r2":35.5},{"i":189,"r1":39,"r2":34.9},{"i":190,"r1":29.5,"r2":31.1},{"i":191,"r1":35.5,"r2":34.3},{"i":192,"r1":37.5,"r2":35.1},{"i":193,"r1":40.8,"r2":36.6},{"i":194,"r1":54.5,"r2":42},{"i":195,"r1":74.3,"r2":55.1},{"i":196,"r1":81.2,"r2":63.4},{"i":197,"r1":87.4,"r2":71.1},{"i":198,"r1":87.7,"r2":71.7},{"i":199,"r1":75.8,"r2":66},{"i":200,"r1":76.8,"r2":66.8}
],
"arrowRed": [
{"i":200.28,"p":3160.4,"i2":202.69,"p2":3200.1},{"i":202.69,"p":3200.1,"i2":201.65,"p2":3194.6},{"i":202.69,"p":3200.1,"i2":202.59,"p2":3186.9},
{"i":203.07,"p":3200.1,"i2":205.86,"p2":3175.6},{"i":205.86,"p":3175.6,"i2":205.41,"p2":3187.8},{"i":205.86,"p":3175.6,"i2":204.73,"p2":3177.2},
{"i":199.64,"p":3141.3,"i2":201.48,"p2":3126.6},{"i":201.48,"p":3126.6,"i2":200.99,"p2":3138.5},{"i":201.48,"p":3126.6,"i2":200.34,"p2":3127.6},
{"i":202.09,"p":3129.5,"i2":205.86,"p2":3158.5},{"i":205.86,"p":3158.5,"i2":204.72,"p2":3157.5},{"i":205.86,"p":3158.5,"i2":205.37,"p2":3146.6}
],
"arrowCyan": [{"i":185.3,"p":3200,"i2":205.5,"p2":3200},{"i":205.5,"p":3200,"i2":204.2,"p2":3207.5},{"i":205.5,"p":3200,"i2":204.2,"p2":3192.5}],
"arrowBlack": [{"i":188.9,"p":3126.6,"i2":211.6,"p2":3126.6},{"i":211.6,"p":3126.6,"i2":209.9,"p2":3135},{"i":211.6,"p":3126.6,"i2":209.9,"p2":3118.2}]
},
"vconcat": [
{
"width": 1625, "height": 576,
"encoding": {"x": {"field": "i", "type": "quantitative", "scale": {"domain": [-0.38, 205.6], "nice": false, "zero": false}, "axis": null}},
"layer": [
{"data": {"name": "vgrid"}, "mark": {"type": "rule", "strokeDash": [4, 3], "color": "#8c8c2a", "strokeWidth": 1}, "encoding": {}},
{"data": {"name": "candles"}, "mark": {"type": "rule", "strokeWidth": 1},
 "encoding": {
  "y": {"field": "l", "type": "quantitative", "title": null, "scale": {"domain": [2814.6, 3662.3], "nice": false, "zero": false},
        "axis": {"orient": "right", "values": [3000, 3200, 3400, 3600], "grid": true, "gridColor": "#8c8c2a", "gridDash": [4, 3], "ticks": false, "domain": false, "labelFontSize": 11, "labelColor": "#222222", "labelPadding": -2, "format": "d", "title": null}},
  "y2": {"field": "h"},
  "color": {"condition": [{"test": "datum.c > datum.o + 0.5", "value": "#ee1c1c"}, {"test": "datum.c < datum.o - 0.5", "value": "#128c12"}], "value": "#000000"}
 }},
{"data": {"name": "candles"}, "mark": {"type": "bar", "width": 6},
 "encoding": {
  "y": {"field": "o", "type": "quantitative", "title": null, "scale": {"domain": [2814.6, 3662.3], "nice": false, "zero": false}},
  "y2": {"field": "c"},
  "color": {"condition": [{"test": "datum.c > datum.o + 0.5", "value": "#ee1c1c"}, {"test": "datum.c < datum.o - 0.5", "value": "#128c12"}], "value": "#000000"}
 }},
{"data": {"name": "candles"}, "transform": [{"filter": "abs(datum.c - datum.o) <= 0.5"}], "mark": {"type": "tick", "orient": "horizontal", "size": 8, "thickness": 1, "color": "#000000"},
 "encoding": {"y": {"field": "c", "type": "quantitative", "title": null, "scale": {"domain": [2814.6, 3662.3], "nice": false, "zero": false}}}},
{"data": {"name": "ma"}, "mark": {"type": "line", "strokeWidth": 1},
 "encoding": {
  "y": {"field": "v", "type": "quantitative", "title": null, "scale": {"domain": [2814.6, 3662.3], "nice": false, "zero": false}},
  "color": {"field": "s", "type": "nominal", "scale": {"domain": ["MA5", "MA10", "MA20", "MA60"], "range": ["#14148c", "#d22828", "#1e8c1e", "#d228d2"]},
   "legend": {"orient": "none", "legendX": 3, "legendY": -17, "direction": "horizontal", "columns": 4, "gridAlign": "all", "columnPadding": 0, "padding": 0,
     "title": "现货白银(TPME 9097)日线", "titleOrient": "left", "titleAngle": 0, "titleBaseline": "top", "titleFont": "Noto Sans CJK SC", "titleFontSize": 11.5, "titleFontWeight": "normal", "titleColor": "#101010", "titlePadding": 22,
     "symbolSize": 0, "symbolStrokeWidth": 0, "symbolOpacity": 0, "labelOffset": 0, "labelFont": "Liberation Sans", "labelFontSize": 11,
     "labelExpr": "datum.value == 'MA5' ? 'MA5 3136.80 ↑' : datum.value == 'MA10' ? 'MA10 3021.50 ↑' : datum.value == 'MA20' ? 'MA20 2956.85 ↑' : 'MA60 3069.03 ↓'",
     "labelColor": {"expr": "datum.value == 'MA5' ? '#0a0a8c' : datum.value == 'MA10' ? '#c81e1e' : datum.value == 'MA20' ? '#1a8c1a' : '#c828c8'"}}}
 }},
{"data": {"values": [{"i": 145.9, "i2": 161.6, "p": 3200, "p2": 3116.3}]}, "mark": {"type": "rect", "filled": false, "stroke": "#000000", "strokeWidth": 3},
 "encoding": {"x2": {"field": "i2"}, "y": {"field": "p", "type": "quantitative", "title": null, "scale": {"domain": [2814.6, 3662.3], "nice": false, "zero": false}}, "y2": {"field": "p2"}}},
{"data": {"values": [{"i": 199.4, "p": 2921, "p2": 2814.6}]}, "mark": {"type": "rule", "color": "#1c1ca8", "strokeWidth": 1},
 "encoding": {"y": {"field": "p", "type": "quantitative", "title": null, "scale": {"domain": [2814.6, 3662.3], "nice": false, "zero": false}}, "y2": {"field": "p2"}}},
{"data": {"values": [{"i": 56.7, "i2": 59.2, "p": 3633}]}, "mark": {"type": "rule", "color": "#c83c3c", "strokeDash": [1, 2], "strokeWidth": 1},
 "encoding": {"x2": {"field": "i2"}, "y": {"field": "p", "type": "quantitative", "title": null, "scale": {"domain": [2814.6, 3662.3], "nice": false, "zero": false}}}},
{"data": {"values": [{"i": 56.6, "p": 3633, "t": "3644"}]}, "mark": {"type": "text", "align": "right", "baseline": "middle", "fontSize": 11, "color": "#c83c3c"},
 "encoding": {"y": {"field": "p", "type": "quantitative", "title": null, "scale": {"domain": [2814.6, 3662.3], "nice": false, "zero": false}}, "text": {"field": "t"}}},
{"data": {"values": [{"i": 135, "p": 3493, "t": "3492"}]}, "mark": {"type": "text", "align": "center", "baseline": "bottom", "dy": -1, "fontSize": 11, "color": "#c83c3c"},
 "encoding": {"y": {"field": "p", "type": "quantitative", "title": null, "scale": {"domain": [2814.6, 3662.3], "nice": false, "zero": false}}, "text": {"field": "t"}}},
{"data": {"values": [{"i": 199, "p": 3215, "t": "3214"}]}, "mark": {"type": "text", "align": "center", "baseline": "bottom", "dy": -1, "dx": 4, "fontSize": 11, "color": "#c83c3c"},
 "encoding": {"y": {"field": "p", "type": "quantitative", "title": null, "scale": {"domain": [2814.6, 3662.3], "nice": false, "zero": false}}, "text": {"field": "t"}}},
{"data": {"values": [{"i": 21, "p": 2891, "t": "2891"}, {"i": 88, "p": 3030, "t": "3030"}]}, "mark": {"type": "text", "align": "center", "baseline": "top", "dy": 3, "fontSize": 11, "color": "#20962a"},
 "encoding": {"y": {"field": "p", "type": "quantitative", "title": null, "scale": {"domain": [2814.6, 3662.3], "nice": false, "zero": false}}, "text": {"field": "t"}}},
{"data": {"values": [{"i": 184, "p": 2830, "t": "2829<-----"}]}, "mark": {"type": "text", "align": "right", "baseline": "middle", "dy": -6, "dx": -1, "fontSize": 11, "color": "#20962a"},
 "encoding": {"y": {"field": "p", "type": "quantitative", "title": null, "scale": {"domain": [2814.6, 3662.3], "nice": false, "zero": false}}, "text": {"field": "t"}}},
{"data": {"name": "arrowCyan"}, "mark": {"type": "rule", "color": "#3cc8dc", "strokeWidth": 2.5},
 "encoding": {"x2": {"field": "i2"}, "y": {"field": "p", "type": "quantitative", "title": null, "scale": {"domain": [2814.6, 3662.3], "nice": false, "zero": false}}, "y2": {"field": "p2"}}},
{"data": {"name": "arrowBlack"}, "mark": {"type": "rule", "color": "#000000", "strokeWidth": 2.5},
 "encoding": {"x2": {"field": "i2"}, "y": {"field": "p", "type": "quantitative", "title": null, "scale": {"domain": [2814.6, 3662.3], "nice": false, "zero": false}}, "y2": {"field": "p2"}}},
{"data": {"name": "arrowRed"}, "mark": {"type": "rule", "color": "#e83c3c", "strokeWidth": 2.5},
 "encoding": {"x2": {"field": "i2"}, "y": {"field": "p", "type": "quantitative", "title": null, "scale": {"domain": [2814.6, 3662.3], "nice": false, "zero": false}}, "y2": {"field": "p2"}}},
{"data": {"values": [{"i": 181.9, "p": 3200, "t": "3200一线阻力"}]}, "mark": {"type": "text", "align": "left", "baseline": "alphabetic", "dy": -5, "fontSize": 20, "font": "Noto Sans CJK SC", "color": "#111111"},
 "encoding": {"y": {"field": "p", "type": "quantitative", "title": null, "scale": {"domain": [2814.6, 3662.3], "nice": false, "zero": false}}, "text": {"field": "t"}}},
{"data": {"values": [{"i": 192.5, "p": 3120, "t": "3120一线支撑"}]}, "mark": {"type": "text", "align": "left", "baseline": "alphabetic", "dy": 20, "fontSize": 21, "font": "Noto Sans CJK SC", "color": "#111111"},
 "encoding": {"y": {"field": "p", "type": "quantitative", "title": null, "scale": {"domain": [2814.6, 3662.3], "nice": false, "zero": false}}, "text": {"field": "t"}}},
{"data": {"values": [{"i": 142.3, "p": 3116.3, "t": "前期成交密集区"}]}, "mark": {"type": "text", "align": "left", "baseline": "alphabetic", "dy": 25, "fontSize": 20.5, "font": "Noto Sans CJK SC", "color": "#222222"},
 "encoding": {"y": {"field": "p", "type": "quantitative", "title": null, "scale": {"domain": [2814.6, 3662.3], "nice": false, "zero": false}}, "text": {"field": "t"}}}
]
},
{
"width": 1625, "height": 299,
"encoding": {"x": {"field": "i", "type": "quantitative", "scale": {"domain": [-0.38, 205.6], "nice": false, "zero": false},
  "axis": {"values": [43.3, 81.5, 123.7, 167.3, 200.3], "labelExpr": "datum.value < 60 ? '01/02' : datum.value < 100 ? '03/02' : datum.value < 140 ? '05/01' : datum.value < 180 ? '07/01' : '08/17'",
   "ticks": false, "domain": false, "grid": false, "title": null, "labelFontSize": 13, "labelFontWeight": "bold", "labelColor": "#33330a", "labelPadding": 4, "labelFlush": false, "labelOverlap": false}}},
"layer": [
{"data": {"name": "vgrid"}, "mark": {"type": "rule", "strokeDash": [4, 3], "color": "#8c8c2a", "strokeWidth": 1}, "encoding": {}},
{"data": {"name": "rsi"}, "transform": [{"fold": ["r1", "r2"], "as": ["k", "val"]}], "mark": {"type": "line", "strokeWidth": 1},
 "encoding": {
  "y": {"field": "val", "type": "quantitative", "title": null, "scale": {"domain": [0.66, 107.2], "nice": false, "zero": false},
        "axis": {"orient": "right", "values": [20, 50, 80], "grid": true, "gridColor": "#8c8c2a", "gridDash": [4, 3], "ticks": false, "domain": false, "labelFontSize": 11, "labelColor": "#222222", "labelPadding": -2, "title": null}},
  "color": {"field": "k", "type": "nominal", "scale": {"domain": ["r1", "r2"], "range": ["#000000", "#c81e1e"]},
   "legend": {"orient": "none", "legendX": 3, "legendY": 3, "direction": "horizontal", "columns": 2, "gridAlign": "all", "columnPadding": 26, "padding": 0,
     "title": "RSI(7,14)", "titleOrient": "left", "titleAngle": 0, "titleBaseline": "top", "titleFont": "Liberation Sans", "titleFontSize": 11, "titleFontWeight": "normal", "titleColor": "#0a0a80", "titlePadding": 42,
     "symbolSize": 0, "symbolStrokeWidth": 0, "symbolOpacity": 0, "labelOffset": 0, "labelFont": "Liberation Sans", "labelFontSize": 11,
     "labelExpr": "datum.value == 'r1' ? 'RSI1  76.82 ↑' : 'RSI2  66.84 ↑'",
     "labelColor": {"expr": "datum.value == 'r1' ? '#000000' : '#c81e1e'"}}}
 }},
{"data": {"values": [{"i": 188.9, "i2": 204.6, "p": 90.1, "p2": 59.2}]}, "mark": {"type": "rect", "filled": false, "stroke": "#000000", "strokeWidth": 3},
 "encoding": {"x2": {"field": "i2"}, "y": {"field": "p", "type": "quantitative", "title": null, "scale": {"domain": [0.66, 107.2], "nice": false, "zero": false}}, "y2": {"field": "p2"}}},
{"data": {"values": [{"i": 199.4, "p": 14.2, "p2": 0.66}]}, "mark": {"type": "rule", "color": "#1c1ca8", "strokeWidth": 1},
 "encoding": {"y": {"field": "p", "type": "quantitative", "title": null, "scale": {"domain": [0.66, 107.2], "nice": false, "zero": false}}, "y2": {"field": "p2"}}},
{"data": {"values": [{"i": 18.4, "p": 4.8, "t": "大数跨境"}]}, "mark": {"type": "text", "align": "center", "baseline": "middle", "fontSize": 32, "fontWeight": "bold", "font": "Noto Sans CJK SC", "fill": "#ffffff", "stroke": "#bdbdbd", "strokeWidth": 1},
 "encoding": {"y": {"field": "p", "type": "quantitative", "title": null, "scale": {"domain": [0.66, 107.2], "nice": false, "zero": false}}, "text": {"field": "t"}}}
]
}
]
}
